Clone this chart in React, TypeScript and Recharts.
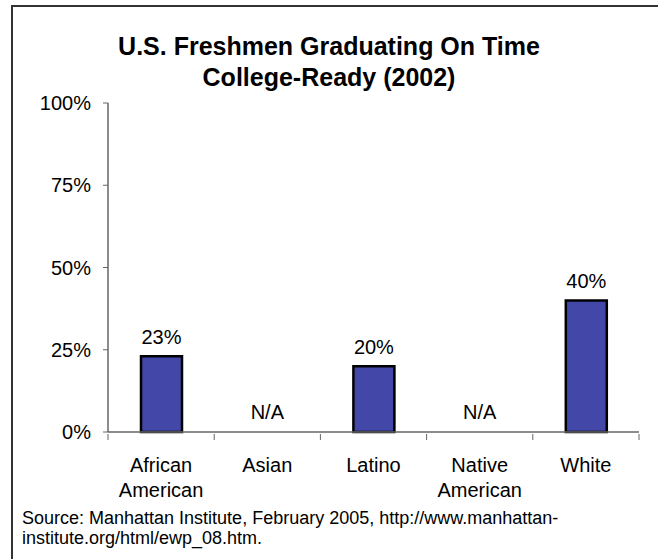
import React from "react";
import { BarChart, Bar, XAxis, YAxis, LabelList } from "recharts";

const groups = ["African American", "Asian", "Latino", "Native American", "White"];
const readyRates: (number | null)[] = [23, null, 20, null, 40];
const yTicks = [0, 25, 50, 75, 100];

const chartData = groups.map((name, i) => ({
    name,
    rate: readyRates[i],
    shown: readyRates[i] == null ? "N/A" : `${readyRates[i]}%`,
}));

const FONT = "'Liberation Sans', Arial, sans-serif";

function CategoryTick(props: any) {
    const { x, y, payload, index, visibleTicksCount } = props;
    const half = payload.offset ?? 0;
    const lines = String(payload.value).split(" ");
    const isLast = index === visibleTicksCount - 1;
    const missing = readyRates[index] == null;
    return (
        <g>
            <line x1={x - half} y1={y} x2={x - half} y2={y + 6} stroke="#666" />
            {isLast && (
                <line x1={x + half} y1={y} x2={x + half} y2={y + 6} stroke="#666" />
            )}
            {missing && (
                <text x={x} y={y - 15} textAnchor="middle" fontSize={20} fill="#000" fontFamily={FONT}>
                    N/A
                </text>
            )}
            <text x={x} y={y + 38} textAnchor="middle" fontSize={20} fill="#000" fontFamily={FONT}>
                {lines.map((l, i) => (
                    <tspan key={i} x={x} dy={i === 0 ? 0 : 25}>
                        {l}
                    </tspan>
                ))}
            </text>
        </g>
    );
}

function ValueLabel(props: any) {
    const { x, y, width, value } = props;
    return (
        <text
            x={x + width / 2}
            y={y - 12}
            textAnchor="middle"
            fontSize={20}
            fill="#000"
            fontFamily={FONT}
        >
            {value}
        </text>
    );
}

export default function App() {
    return (
        <div
            style={{
                position: "absolute",
                left: 0,
                top: 0,
                width: 658,
                height: 559,
                background: "#fff",
                overflow: "hidden",
                fontFamily: FONT,
            }}
        >
            <div
                style={{
                    position: "absolute",
                    left: 11,
                    top: 5,
                    width: 700,
                    height: 600,
                    border: "2px solid #333",
                    boxSizing: "border-box",
                }}
            />
            <div
                style={{
                    position: "absolute",
                    left: 0,
                    width: 658,
                    top: 31,
                    textAlign: "center",
                    fontWeight: "bold",
                    fontSize: 25,
                    lineHeight: "31px",
                    color: "#000",
                }}
            >
                U.S. Freshmen Graduating On Time
                <br />
                College-Ready (2002)
            </div>
            <BarChart
                width={658}
                height={559}
                data={chartData}
                margin={{ top: 103, right: 19, bottom: 0, left: 0 }}
                style={{ position: "absolute", left: 0, top: 0 }}
            >
                <XAxis
                    dataKey="name"
                    type="category"
                    height={127}
                    tickLine={false}
                    interval={0}
                    axisLine={{ stroke: "#666", strokeWidth: 1.5 }}
                    tick={<CategoryTick />}
                    tickSize={0}
                />
                <YAxis
                    type="number"
                    domain={[0, 100]}
                    ticks={yTicks}
                    width={108}
                    tickFormatter={(v) => `${v}%`}
                    tickSize={5}
                    tickMargin={12}
                    tick={{ fontSize: 20, fill: "#000", fontFamily: FONT }}
                    tickLine={{ stroke: "#666" }}
                    axisLine={{ stroke: "#666", strokeWidth: 1.5 }}
                />
                <Bar
                    dataKey="rate"
                    barSize={41}
                    fill="#4347A8"
                    stroke="#000"
                    strokeWidth={2.5}
                    isAnimationActive={false}
                >
                    <LabelList dataKey="shown" content={<ValueLabel />} />
                </Bar>
            </BarChart>
            <div
                style={{
                    position: "absolute",
                    left: 22,
                    top: 508,
                    fontSize: 18,
                    lineHeight: "20px",
                    color: "#000",
                }}
            >
                Source: Manhattan Institute, February 2005, http://www.manhattan-
                <br />
                institute.org/html/ewp_08.htm.
            </div>
        </div>
    );
}
